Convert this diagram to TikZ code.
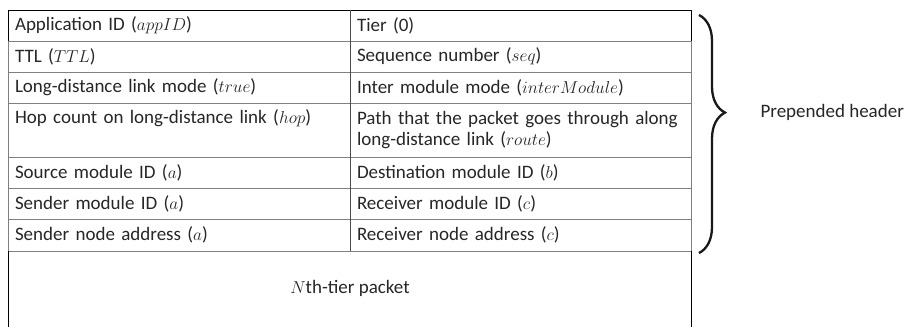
\documentclass[tikz,border=0pt]{standalone}
\usepackage{fontspec}
\setmainfont{Carlito}
\usepackage{tikz}
\usetikzlibrary{positioning,decorations.pathreplacing}

\begin{document}
\begin{tikzpicture}[x=1pt, y=-1pt, font=\fontsize{19}{21}\selectfont, text=black!85,
  lcell/.style={draw=black!50, line width=0.9pt, minimum height=31pt, text width=328pt,
    inner xsep=7pt, inner ysep=0pt, align=left, outer sep=0pt},
  rcell/.style={lcell, text width=327pt},
  tall/.style={minimum height=54pt}]
  \useasboundingbox (0,0) rectangle (904,327);
  % header fields, left and right column
  \node[lcell, anchor=north west] (app) at (8,10) {Application ID ($appID$)};
  \node[rcell, right=0pt of app] (tier) {Tier (0)};
  \node[lcell, below=0pt of app] (ttl) {TTL ($TTL$)};
  \node[rcell, right=0pt of ttl] (seq) {Sequence number ($seq$)};
  \node[lcell, below=0pt of ttl] (ldl) {Long-distance link mode ($true$)};
  \node[rcell, right=0pt of ldl] (imod) {Inter module mode ($interModule$)};
  \node[lcell, tall, below=0pt of ldl] (hop) {Hop count on long-distance link ($hop$)\\\strut};
  \node[rcell, tall, right=0pt of hop] (route) {Path that the packet goes through along\\long-distance link ($route$)};
  \node[lcell, below=0pt of hop] (srcm) {Source module ID ($a$)};
  \node[rcell, right=0pt of srcm] (dstm) {Destination module ID ($b$)};
  \node[lcell, below=0pt of srcm] (sndm) {Sender module ID ($a$)};
  \node[rcell, right=0pt of sndm] (rcvm) {Receiver module ID ($c$)};
  \node[lcell, minimum height=32pt, below=0pt of sndm] (sndn) {Sender node address ($a$)};
  \node[rcell, minimum height=32pt, right=0pt of sndn] (rcvn) {Receiver node address ($c$)};
  % packet body, open at the bottom
  \draw[line width=0.9pt] (sndn.south west) -- (8,327);
  \draw[line width=0.9pt] (rcvn.south east) -- (691,327);
  \draw[line width=0.9pt] (app.south west) |- (app.north west) -- (tier.north east) -- (tier.south east);
  \draw[line width=0.9pt, black!70] (app.north east) -- (sndn.south east);
  \node (pkt) at (350,288) {$N$th-tier packet};
  % brace over the header
  \draw[line width=2.3pt, black!90, decorate, decoration={brace, amplitude=26pt, aspect=0.41}]
    (699,15) coordinate (btop) -- (699,253) coordinate (bbot);
  \node[anchor=west] (hdr) at (757,112) {Prepended header};
\end{tikzpicture}
\end{document}
